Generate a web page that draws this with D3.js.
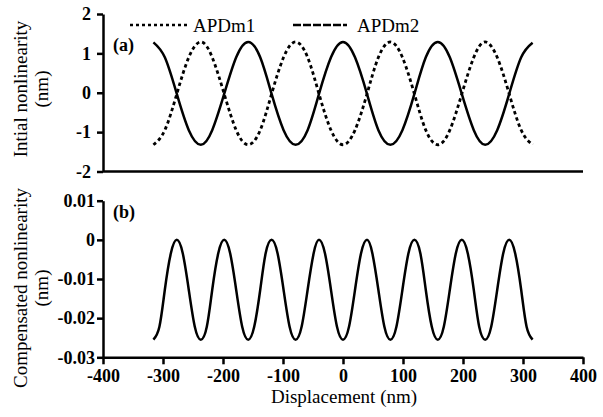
<!DOCTYPE html>
<html>
<head>
<meta charset="utf-8">
<script src="https://cdn.jsdelivr.net/npm/d3@7"></script>
<style>
  body { margin: 0; background: #fff; }
  .tick line, .domain { stroke: #000; stroke-width: 2.5; }
</style>
</head>
<body>
<div id="chart"></div>
<script>
// displacement positions (nm)
const topDisp = [-316, -297, -277, -257, -237, -218, -198, -178, -158, -138, -119, -99, -79, -59, -40, -20,
  0, 20, 40, 59, 79, 99, 119, 138, 158, 178, 198, 218, 237, 257, 277, 297, 316];
const apdm1 = [-1.32, -0.95, -0.03, 0.9, 1.29, 0.9, -0.03, -0.95, -1.32, -0.95, -0.03, 0.9, 1.29, 0.9, -0.03, -0.95,
  -1.32, -0.95, -0.03, 0.9, 1.29, 0.9, -0.03, -0.95, -1.32, -0.95, -0.03, 0.9, 1.29, 0.9, -0.03, -0.95, -1.32];
const apdm2 = [1.28, 0.9, -0.03, -0.95, -1.32, -0.95, -0.03, 0.9, 1.29, 0.9, -0.03, -0.95, -1.32, -0.95, -0.03, 0.9,
  1.29, 0.9, -0.03, -0.95, -1.32, -0.95, -0.03, 0.9, 1.29, 0.9, -0.03, -0.95, -1.32, -0.95, -0.03, 0.9, 1.27];

const botDisp = [-316, -306, -297, -287, -277, -267, -257, -247, -237, -227, -218, -208, -198, -188, -178, -168,
  -158, -148, -138, -129, -119, -109, -99, -89, -79, -69, -59, -49, -40, -30, -20, -10,
  0, 10, 20, 30, 40, 49, 59, 69, 79, 89, 99, 109, 119, 129, 138, 148,
  158, 168, 178, 188, 198, 208, 218, 227, 237, 247, 257, 267, 277, 287, 297, 306, 316];
const compensated = [-0.0255, -0.0222, -0.0128, -0.0035, 0, -0.0035, -0.0128, -0.0222,
  -0.0255, -0.0222, -0.0128, -0.0035, 0, -0.0035, -0.0128, -0.0222,
  -0.0255, -0.0222, -0.0128, -0.0035, 0, -0.0035, -0.0128, -0.0222,
  -0.0255, -0.0222, -0.0128, -0.0035, 0, -0.0035, -0.0128, -0.0222,
  -0.0255, -0.0222, -0.0128, -0.0035, 0, -0.0035, -0.0128, -0.0222,
  -0.0255, -0.0222, -0.0128, -0.0035, 0, -0.0035, -0.0128, -0.0222,
  -0.0255, -0.0222, -0.0128, -0.0035, 0, -0.0035, -0.0128, -0.0222,
  -0.0255, -0.0222, -0.0128, -0.0035, 0, -0.0035, -0.0128, -0.0222, -0.0255];

const xTicks = [-400, -300, -200, -100, 0, 100, 200, 300, 400];
const topTicks = [-2, -1, 0, 1, 2];
const botTicks = [-0.03, -0.02, -0.01, 0, 0.01];

const serif = "'Liberation Serif', 'Times New Roman', serif";
const width = 603, height = 417;
const svg = d3.select("#chart").append("svg")
    .attr("width", width).attr("height", height);

const x = d3.scaleLinear().domain([-400, 400]).range([103, 583]);
const yTop = d3.scaleLinear().domain([-2, 2]).range([171.5, 14]);
const yBot = d3.scaleLinear().domain([-0.03, 0.01]).range([357.3, 200.7]);

const fmt = d => String(d);

function styleAxis(g) {
  g.attr("font-family", serif).attr("font-size", 18).attr("font-weight", "bold");
  g.selectAll("text").attr("fill", "#000");
}

// top panel axis
svg.append("g").attr("transform", "translate(103,0)")
    .call(d3.axisLeft(yTop).tickValues(topTicks).tickFormat(fmt).tickSize(6).tickSizeOuter(0).tickPadding(6))
    .call(styleAxis);
svg.append("line")
    .attr("x1", x(-400)).attr("x2", x(400)).attr("y1", yTop(-2)).attr("y2", yTop(-2))
    .attr("stroke", "#000").attr("stroke-width", 2.5);

// bottom panel axes
svg.append("g").attr("transform", "translate(103,0)")
    .call(d3.axisLeft(yBot).tickValues(botTicks).tickFormat(fmt).tickSize(6).tickSizeOuter(0).tickPadding(2))
    .call(styleAxis);
svg.append("g").attr("transform", `translate(0,${yBot(-0.03)})`)
    .call(d3.axisBottom(x).tickValues(xTicks).tickFormat(fmt).tickSize(7).tickSizeOuter(0).tickPadding(5))
    .call(styleAxis);

// curves
const lineTop = (vals) => d3.line()
    .x((d, i) => x(topDisp[i])).y(d => yTop(d)).curve(d3.curveNatural)(vals);

svg.append("path").attr("d", lineTop(apdm1))
    .attr("fill", "none").attr("stroke", "#000").attr("stroke-width", 2.8)
    .attr("stroke-dasharray", "3.5,3");
svg.append("path").attr("d", lineTop(apdm2))
    .attr("fill", "none").attr("stroke", "#000").attr("stroke-width", 2.5);

svg.append("path")
    .attr("d", d3.line().x((d, i) => x(botDisp[i])).y(d => yBot(d)).curve(d3.curveNatural)(compensated))
    .attr("fill", "none").attr("stroke", "#000").attr("stroke-width", 2.5);

// legend
const legend = [
  {name: "APDm1", x1: 130, x2: 188, dash: "3,3", tx: 193},
  {name: "APDm2", x1: 293, x2: 347, dash: "8,2", tx: 357}
];
legend.forEach(l => {
  svg.append("line").attr("x1", l.x1).attr("x2", l.x2).attr("y1", 25).attr("y2", 25)
      .attr("stroke", "#000").attr("stroke-width", 2.5).attr("stroke-dasharray", l.dash);
  svg.append("text").attr("x", l.tx).attr("y", 32).attr("font-family", serif)
      .attr("font-size", 19).text(l.name);
});

// panel labels
svg.append("text").attr("x", 113).attr("y", 51).attr("font-family", serif)
    .attr("font-size", 18).attr("font-weight", "bold").text("(a)");
svg.append("text").attr("x", 113).attr("y", 218).attr("font-family", serif)
    .attr("font-size", 18).attr("font-weight", "bold").text("(b)");

// axis titles
function yTitle(lines, cy) {
  lines.forEach((t, i) => {
    svg.append("text")
        .attr("transform", `translate(${27 + i * 21},${cy}) rotate(-90)`)
        .attr("text-anchor", "middle").attr("font-family", serif)
        .attr("font-size", 19).text(t);
  });
}
yTitle(["Intial nonlinearity", "(nm)"], 89);
yTitle(["Compensated nonlinearity", "(nm)"], 288);

svg.append("text").attr("x", 344).attr("y", 403).attr("text-anchor", "middle")
    .attr("font-family", serif).attr("font-size", 19).text("Displacement (nm)");
</script>
</body>
</html>
